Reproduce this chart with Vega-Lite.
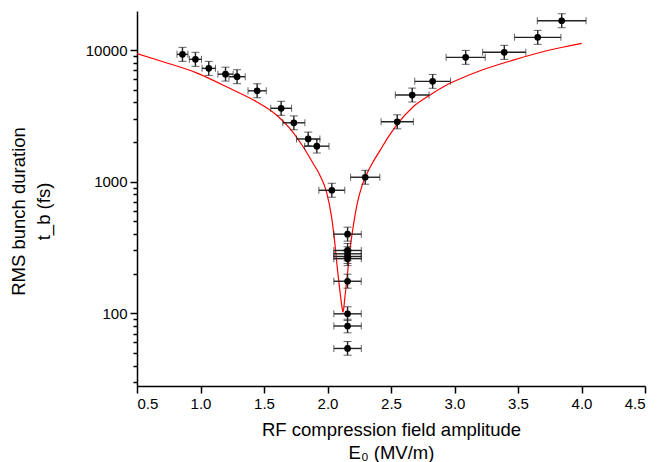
{
  "$schema": "https://vega.github.io/schema/vega-lite/v6.json",
  "width": 508,
  "height": 375,
  "autosize": {"type": "none"},
  "padding": {"left": 137, "top": 11, "right": 13, "bottom": 76},
  "background": "white",
  "config": {
    "view": {"stroke": null},
    "font": "Liberation Sans",
    "axis": {
      "domainColor": "black",
      "domainWidth": 1.5,
      "tickColor": "black",
      "tickWidth": 1.5,
      "grid": false,
      "labelFont": "Liberation Sans",
      "labelFontSize": 15,
      "labelColor": "black",
      "titleFont": "Liberation Sans",
      "titleFontSize": 18.5,
      "titleFontWeight": "normal",
      "titleColor": "black",
      "labelOverlap": false
    }
  },
  "datasets": {
    "pts": [
      {"x": 0.858, "xlo": 0.815, "xhi": 0.901, "y": 9270, "ylo": 8200, "yhi": 10480},
      {"x": 0.960, "xlo": 0.912, "xhi": 1.008, "y": 8500, "ylo": 7520, "yhi": 9610},
      {"x": 1.065, "xlo": 1.012, "xhi": 1.118, "y": 7260, "ylo": 6420, "yhi": 8200},
      {"x": 1.197, "xlo": 1.137, "xhi": 1.257, "y": 6560, "ylo": 5810, "yhi": 7410},
      {"x": 1.288, "xlo": 1.224, "xhi": 1.352, "y": 6270, "ylo": 5550, "yhi": 7090},
      {"x": 1.446, "xlo": 1.374, "xhi": 1.518, "y": 4900, "ylo": 4340, "yhi": 5540},
      {"x": 1.635, "xlo": 1.553, "xhi": 1.717, "y": 3610, "ylo": 3190, "yhi": 4080},
      {"x": 1.735, "xlo": 1.648, "xhi": 1.822, "y": 2800, "ylo": 2480, "yhi": 3160},
      {"x": 1.848, "xlo": 1.756, "xhi": 1.940, "y": 2110, "ylo": 1870, "yhi": 2380},
      {"x": 1.916, "xlo": 1.820, "xhi": 2.012, "y": 1860, "ylo": 1650, "yhi": 2100},
      {"x": 2.034, "xlo": 1.932, "xhi": 2.136, "y": 860, "ylo": 761, "yhi": 972},
      {"x": 2.297, "xlo": 2.182, "xhi": 2.412, "y": 1080, "ylo": 956, "yhi": 1220},
      {"x": 2.549, "xlo": 2.422, "xhi": 2.676, "y": 2850, "ylo": 2520, "yhi": 3220},
      {"x": 2.667, "xlo": 2.534, "xhi": 2.800, "y": 4550, "ylo": 4030, "yhi": 5140},
      {"x": 2.828, "xlo": 2.687, "xhi": 2.969, "y": 5780, "ylo": 5120, "yhi": 6530},
      {"x": 3.088, "xlo": 2.934, "xhi": 3.242, "y": 8800, "ylo": 7790, "yhi": 9940},
      {"x": 3.392, "xlo": 3.222, "xhi": 3.562, "y": 9610, "ylo": 8500, "yhi": 10860},
      {"x": 3.655, "xlo": 3.472, "xhi": 3.838, "y": 12490, "ylo": 11050, "yhi": 14110},
      {"x": 3.844, "xlo": 3.652, "xhi": 4.036, "y": 16700, "ylo": 14780, "yhi": 18870},
      {"x": 2.158, "xlo": 2.050, "xhi": 2.266, "y": 399, "ylo": 353, "yhi": 451},
      {"x": 2.158, "xlo": 2.050, "xhi": 2.266, "y": 300, "ylo": 265, "yhi": 339},
      {"x": 2.158, "xlo": 2.050, "xhi": 2.266, "y": 283, "ylo": 250, "yhi": 320},
      {"x": 2.158, "xlo": 2.050, "xhi": 2.266, "y": 270, "ylo": 239, "yhi": 305},
      {"x": 2.158, "xlo": 2.050, "xhi": 2.266, "y": 260, "ylo": 230, "yhi": 294},
      {"x": 2.158, "xlo": 2.050, "xhi": 2.266, "y": 175, "ylo": 155, "yhi": 198},
      {"x": 2.158, "xlo": 2.050, "xhi": 2.266, "y": 99, "ylo": 88, "yhi": 112},
      {"x": 2.158, "xlo": 2.050, "xhi": 2.266, "y": 80, "ylo": 71, "yhi": 90},
      {"x": 2.158, "xlo": 2.050, "xhi": 2.266, "y": 54, "ylo": 48, "yhi": 61}
    ],
    "fit": [
      {"x": 0.5, "y": 9400},
      {"x": 0.705, "y": 8150},
      {"x": 0.968, "y": 6710},
      {"x": 1.230, "y": 5120},
      {"x": 1.441, "y": 4050},
      {"x": 1.598, "y": 3210},
      {"x": 1.703, "y": 2540},
      {"x": 1.808, "y": 1840},
      {"x": 1.887, "y": 1375},
      {"x": 1.940, "y": 1120},
      {"x": 1.993, "y": 830},
      {"x": 2.032, "y": 540},
      {"x": 2.058, "y": 339},
      {"x": 2.079, "y": 212},
      {"x": 2.097, "y": 150},
      {"x": 2.119, "y": 105},
      {"x": 2.123, "y": 102},
      {"x": 2.137, "y": 133},
      {"x": 2.155, "y": 189},
      {"x": 2.176, "y": 301},
      {"x": 2.202, "y": 453},
      {"x": 2.234, "y": 682},
      {"x": 2.270, "y": 920},
      {"x": 2.310, "y": 1150},
      {"x": 2.360, "y": 1420},
      {"x": 2.413, "y": 1720},
      {"x": 2.478, "y": 2180},
      {"x": 2.544, "y": 2690},
      {"x": 2.675, "y": 3710},
      {"x": 2.807, "y": 4550},
      {"x": 2.938, "y": 5420},
      {"x": 3.069, "y": 6190},
      {"x": 3.201, "y": 6960},
      {"x": 3.463, "y": 8390},
      {"x": 3.726, "y": 9880},
      {"x": 4.002, "y": 11250}
    ]
  },
  "layer": [
    {
      "data": {"name": "fit"},
      "mark": {"type": "line", "color": "#ff0000", "strokeWidth": 1.2, "clip": true, "interpolate": "monotone"},
      "encoding": {
        "x": {
          "field": "x", "type": "quantitative",
          "title": ["RF compression field amplitude", "E₀ (MV/m)"],
          "scale": {"domain": [0.5, 4.5], "nice": false, "zero": false},
          "axis": {
            "titlePadding": 9,
            "titleLineHeight": 23,
            "values": [0.5, 0.75, 1.0, 1.25, 1.5, 1.75, 2.0, 2.25, 2.5, 2.75, 3.0, 3.25, 3.5, 3.75, 4.0, 4.25, 4.5],
            "labelExpr": "(datum.value * 2) % 1 == 0 ? format(datum.value, '.1f') : ''",
            "tickSize": {"condition": {"test": "(datum.value * 2) % 1 == 0", "value": 7}, "value": 4},
            "labelPadding": 3
          }
        },
        "y": {
          "field": "y", "type": "quantitative",
          "title": ["RMS bunch duration", "t_b (fs)"],
          "scale": {"type": "log", "domain": [28, 19800], "nice": false},
          "axis": {
            "titlePadding": 32,
            "titleLineHeight": 25,
            "titleY": 200,
            "values": [30, 40, 50, 60, 70, 80, 90, 100, 200, 300, 400, 500, 600, 700, 800, 900, 1000, 2000, 3000, 4000, 5000, 6000, 7000, 8000, 9000, 10000],
            "labelExpr": "indexof([100, 1000, 10000], datum.value) >= 0 ? format(datum.value, 'd') : ''",
            "tickSize": {"condition": {"test": "indexof([100, 1000, 10000], datum.value) >= 0", "value": 7}, "value": 4},
            "labelPadding": 3
          }
        }
      }
    },
    {
      "data": {"name": "pts"},
      "mark": {"type": "errorbar", "ticks": {"size": 7, "color": "#222222", "strokeWidth": 1.4}, "rule": {"color": "#222222", "strokeWidth": 1.4}},
      "encoding": {
        "x": {"field": "xlo", "type": "quantitative", "title": ["RF compression field amplitude", "E₀ (MV/m)"]},
        "x2": {"field": "xhi"},
        "y": {"field": "y", "type": "quantitative", "title": ["RMS bunch duration", "t_b (fs)"]}
      }
    },
    {
      "data": {"name": "pts"},
      "mark": {"type": "errorbar", "ticks": {"size": 8, "color": "#222222", "strokeWidth": 1.4}, "rule": {"color": "#222222", "strokeWidth": 1.4}},
      "encoding": {
        "x": {"field": "x", "type": "quantitative", "title": ["RF compression field amplitude", "E₀ (MV/m)"]},
        "y": {"field": "ylo", "type": "quantitative", "title": ["RMS bunch duration", "t_b (fs)"]},
        "y2": {"field": "yhi"}
      }
    },
    {
      "data": {"name": "pts"},
      "mark": {"type": "circle", "color": "black", "size": 45, "opacity": 1},
      "encoding": {
        "x": {"field": "x", "type": "quantitative", "title": ["RF compression field amplitude", "E₀ (MV/m)"]},
        "y": {"field": "y", "type": "quantitative", "title": ["RMS bunch duration", "t_b (fs)"]}
      }
    }
  ]
}
